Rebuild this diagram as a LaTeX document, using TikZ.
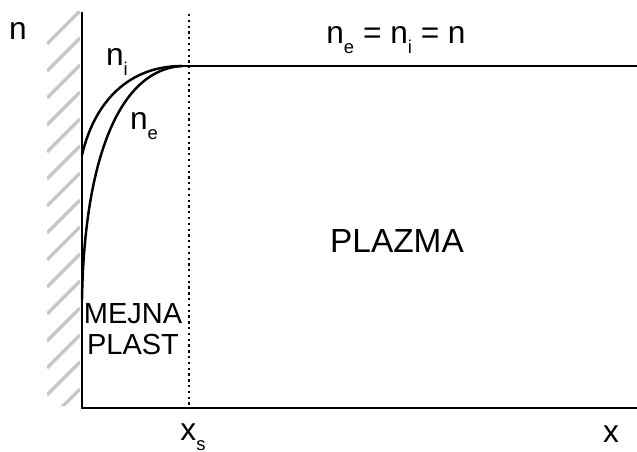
\documentclass[tikz,border=0pt]{standalone}
\usepackage{fontspec}
\setmainfont{Liberation Sans}
\usetikzlibrary{positioning}
\newcommand{\lowidx}[1]{\raisebox{-0.6ex}{\fontsize{10.5}{11}\selectfont #1}}
\tikzset{
  axis/.style={line width=1.7pt},
  curve/.style={line width=1.4pt},
  hatch/.style={line width=2pt, gray!45},
  sheath/.style={dotted, line width=1.3pt},
  lab/.style={inner sep=0pt, font=\fontsize{18}{20}\selectfont},
  region/.style={inner sep=0pt, align=center, font=\fontsize{16.5}{18}\selectfont}
}
\begin{document}
\begin{tikzpicture}[x=0.02cm, y=-0.02cm]
\useasboundingbox (0,0) rectangle (637,452);
% corners of the graph
\coordinate (top) at (82,12);
\coordinate (origin) at (82,408);
\coordinate (xend) at (637,408);
\coordinate (stop) at (189,14);
\coordinate (sfoot) at (189,408);
\coordinate (knee) at (182,66);
\coordinate (far) at (637,66);
\coordinate (iwall) at (82,155);
\coordinate (ewall) at (82,300);

% wall hatching
\begin{scope}
\clip (47,12) rectangle (80,406);
\foreach \y in {44,71,...,450}
  \draw[hatch] (47,\y) -- ++(33,-33);
\end{scope}

\draw[axis] (top) -- (origin) -- (xend);
\draw[sheath] (stop) -- (sfoot);
\draw[curve] (knee) -- (far);
\draw[curve] (iwall) .. controls (95,100) and (130,66) .. (knee);
\draw[curve] (ewall) .. controls (84,170) and (115,70) .. (knee);

\node[lab] (n) at (18,31) {n};
\node[lab] (ni) at (117,62) {n\lowidx{i}};
\node[lab] (ne) at (144,126) {n\lowidx{e}};
\node[lab] (eq) at (396,40) {n\lowidx{e} = n\lowidx{i} = n};
\node[region, font=\fontsize{19}{21}\selectfont] (plazma) at (397,241) {PLAZMA};
\node[region] (mejna) at (133,329) {MEJNA\\PLAST};
\node[lab] (xs) at (193,437) {x\lowidx{s}};
\node[lab] (x) at (611,434) {x};
\end{tikzpicture}
\end{document}
